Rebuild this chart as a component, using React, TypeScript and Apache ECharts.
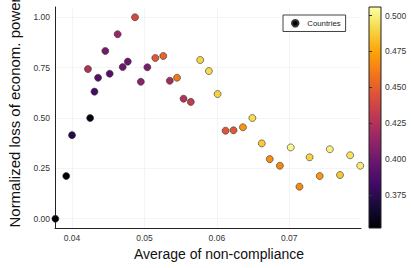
import React, { useEffect, useRef } from "react";
import * as echarts from "echarts";

const xVals = [0.0377, 0.0392, 0.04, 0.0422, 0.0425, 0.0431, 0.0436, 0.0446, 0.0452, 0.0463, 0.047, 0.0477, 0.0487, 0.0495, 0.0504, 0.0515, 0.0526, 0.0535, 0.0545, 0.0554, 0.0564, 0.0577, 0.0589, 0.0601, 0.0612, 0.0623, 0.0636, 0.0649, 0.0662, 0.0673, 0.0687, 0.0702, 0.0714, 0.0728, 0.0742, 0.0756, 0.077, 0.0784, 0.0798];
const yVals = [0.0, 0.212, 0.415, 0.743, 0.5, 0.631, 0.7, 0.833, 0.72, 0.916, 0.753, 0.78, 1.0, 0.68, 0.752, 0.798, 0.808, 0.685, 0.7, 0.596, 0.58, 0.788, 0.733, 0.619, 0.437, 0.439, 0.454, 0.5, 0.374, 0.296, 0.263, 0.354, 0.159, 0.305, 0.212, 0.345, 0.217, 0.315, 0.263];
const cVals = [0.352, 0.355, 0.372, 0.425, 0.356, 0.384, 0.39, 0.402, 0.39, 0.415, 0.398, 0.398, 0.44, 0.41, 0.405, 0.447, 0.452, 0.42, 0.46, 0.425, 0.432, 0.49, 0.492, 0.489, 0.446, 0.447, 0.47, 0.492, 0.487, 0.467, 0.465, 0.502, 0.466, 0.489, 0.47, 0.5, 0.486, 0.495, 0.498];

const xTicks = [0.04, 0.05, 0.06, 0.07];
const yTicks = [0, 0.25, 0.5, 0.75, 1.0];
const cTicks = [0.375, 0.4, 0.425, 0.45, 0.475, 0.5];
const cRange = [0.352, 0.506];

const inferno = ["#000004", "#160b39", "#420a68", "#6a176e", "#932667", "#bc3754", "#dd513a", "#f37819", "#fca50a", "#f6d746", "#fcffa4"];

const FONT = "Liberation Sans";

export default function App() {
  const ref = useRef<HTMLDivElement>(null);
  useEffect(() => {
    if (!ref.current) return;
    const chart = echarts.init(ref.current, null, { renderer: "svg" });
    const data = xVals.map((x, i) => [x, yVals[i], cVals[i]]);
    const grad = new echarts.graphic.LinearGradient(
      0, 1, 0, 0,
      inferno.map((c, i) => ({ offset: i / (inferno.length - 1), color: c }))
    );
    chart.setOption({
      animation: false,
      backgroundColor: "#fff",
      textStyle: { fontFamily: FONT },
      grid: [
        { left: 55, top: 7, width: 306, height: 221, containLabel: false, outerBoundsMode: "none" },
        { left: 369, top: 7, width: 12, height: 221, show: true, backgroundColor: grad, borderColor: "#222", borderWidth: 1, containLabel: false, outerBoundsMode: "none" },
      ],
      xAxis: [
        {
          type: "value", gridIndex: 0, min: 0.03765, max: 0.0799,
          name: "Average of non-compliance", nameLocation: "middle", nameGap: 15,
          nameTextStyle: { fontSize: 14, color: "#111", fontFamily: FONT, padding: [0, 0, 0, 22] },
          axisLine: { show: true, onZero: false, lineStyle: { color: "#222", width: 1 } },
          axisTick: { show: false, customValues: xTicks },
          axisLabel: { customValues: xTicks, fontSize: 8.5, color: "#333", margin: 5, formatter: (v: number) => v.toFixed(2) },
          splitLine: { show: true, lineStyle: { color: "#ececec", width: 0.6 } },
        },
        { type: "value", gridIndex: 1, show: false, min: 0, max: 1 },
      ],
      yAxis: [
        {
          type: "value", gridIndex: 0, min: -0.046, max: 1.051,
          name: "Normalized loss of econom. power", nameLocation: "middle", nameGap: 33, nameRotate: 90,
          nameTextStyle: { fontSize: 15, color: "#111", fontFamily: FONT, padding: [0, 0, 0, 10] },
          axisLine: { show: true, onZero: false, lineStyle: { color: "#222", width: 1 } },
          axisTick: { show: false, customValues: yTicks },
          axisLabel: { customValues: yTicks, fontSize: 8.5, color: "#333", margin: 5, formatter: (v: number) => v.toFixed(2) },
          splitLine: { show: true, lineStyle: { color: "#ececec", width: 0.6 } },
        },
        {
          type: "value", gridIndex: 1, position: "right", min: cRange[0], max: cRange[1],
          axisLine: { show: false },
          axisTick: { show: true, inside: false, length: 3, customValues: cTicks, lineStyle: { color: "#333" } },
          axisLabel: { customValues: cTicks, fontSize: 8.5, color: "#333", margin: 4, formatter: (v: number) => v.toFixed(3) },
          splitLine: { show: false },
        },
      ],
      visualMap: {
        show: false, type: "continuous", dimension: 2, seriesIndex: 0,
        min: cRange[0], max: cRange[1], inRange: { color: inferno },
      },
      legend: {
        left: 283, top: 15, orient: "vertical",
        padding: [4, 5, 4, 8], itemWidth: 14, itemHeight: 6.5, itemGap: 0,
        borderColor: "#444", borderWidth: 1, backgroundColor: "#fff",
        textStyle: { fontSize: 7.8, color: "#222", fontFamily: FONT },
        data: [{ name: "Countries", icon: "circle", itemStyle: { color: "#000" } }],
      },
      series: [
        {
          name: "Countries", type: "scatter", xAxisIndex: 0, yAxisIndex: 0,
          symbol: "circle", symbolSize: 7, clip: true,
          itemStyle: { borderColor: "#333", borderWidth: 0.6, opacity: 1 },
          data,
        },
      ],
    });
    return () => chart.dispose();
  }, []);
  return <div ref={ref} style={{ position: "fixed", left: 0, top: 0, width: 411, height: 268 }} />;
}
